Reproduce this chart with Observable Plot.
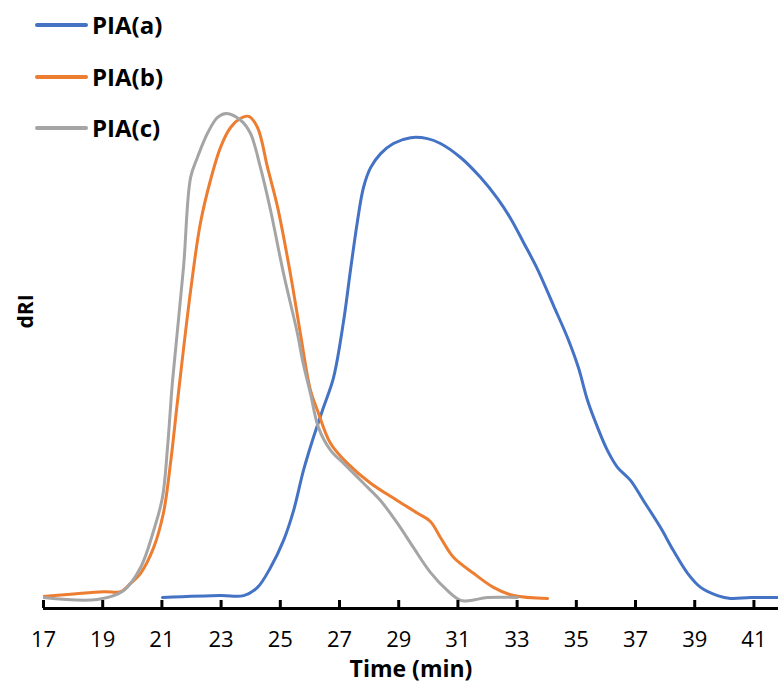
<!DOCTYPE html>
<html>
<head>
<meta charset="utf-8">
<script src="https://cdn.jsdelivr.net/npm/d3@7"></script>
<script src="https://cdn.jsdelivr.net/npm/@observablehq/plot@0.6"></script>
<style>
  html, body { margin: 0; padding: 0; background: #fff; }
  #wrap { position: relative; width: 778px; height: 690px; font-family: "Open Sans", sans-serif; }
  #legend { position: absolute; left: 35px; top: 0; }
  .item { position: absolute; left: 0; display: flex; align-items: center; white-space: nowrap; }
  .sw { width: 53px; height: 0; border-top: 4px solid; border-radius: 2px; margin-right: 4px; }
  .lab { font-weight: 700; font-size: 24px; color: #000; }
</style>
</head>
<body>
<div id="wrap"><div id="legend"></div></div>
<script>
// ---- data ----
const seriesNames = ["PIA(a)", "PIA(b)", "PIA(c)"];
const seriesColors = ["#4472C4", "#ED7D31", "#A5A5A5"];

const timeA = [21.02, 22.98, 23.76, 24.23, 24.67, 25.11, 25.45, 25.78, 26.12, 26.46, 26.8, 27.14, 27.37, 27.61, 27.81, 28.05, 28.39, 28.82, 29.4, 29.97, 30.41, 31.09, 31.76, 32.34, 32.78, 33.22, 33.69, 34.23, 34.7, 35.07, 35.38, 35.72, 36.05, 36.39, 36.83, 37.27, 37.84, 38.28, 38.76, 39.2, 39.77, 40.21, 40.89, 42.0];
const driA  = [0.0, 0.4, 0.4, 2.1, 6.2, 11.8, 18.0, 26.2, 33.1, 39.3, 45.5, 57.2, 67.6, 77.9, 84.7, 88.8, 91.7, 93.8, 95.0, 94.8, 93.8, 90.9, 86.8, 82.4, 78.3, 73.3, 67.8, 60.3, 53.7, 47.5, 40.7, 35.1, 30.4, 26.9, 24.2, 20.0, 14.5, 9.7, 5.0, 2.1, 0.4, -0.2, 0.0, 0.0];

const timeB = [17.0, 19.03, 19.6, 19.94, 20.28, 20.72, 21.05, 21.29, 21.53, 21.97, 22.3, 22.64, 22.98, 23.32, 23.66, 23.93, 24.23, 24.57, 24.91, 25.34, 25.68, 26.02, 26.26, 26.7, 27.27, 28.05, 28.96, 29.64, 30.07, 30.41, 30.85, 31.53, 32.2, 32.88, 34.03];
const driB  = [0.2, 1.2, 1.2, 2.9, 5.0, 10.3, 17.4, 27.7, 40.7, 63.4, 77.3, 86.2, 93.0, 97.1, 99.0, 99.4, 97.1, 88.8, 80.6, 66.9, 54.5, 42.8, 38.6, 31.8, 27.7, 23.6, 20.0, 17.4, 15.7, 12.4, 8.3, 5.0, 2.1, 0.4, -0.2];

const timeC = [17.0, 18.82, 19.7, 20.28, 20.72, 21.02, 21.19, 21.36, 21.73, 21.97, 22.2, 22.54, 22.88, 23.18, 23.66, 23.99, 24.33, 24.67, 25.11, 25.58, 25.75, 26.02, 26.29, 26.7, 27.14, 27.81, 28.39, 28.96, 29.5, 30.07, 30.65, 31.09, 31.43, 32.0, 33.01];
const driC  = [0.0, -0.4, 1.4, 6.2, 13.8, 20.7, 31.0, 44.8, 68.2, 86.8, 90.9, 95.9, 99.2, 100.0, 98.6, 95.9, 88.8, 80.0, 66.9, 54.5, 49.0, 42.1, 35.1, 30.4, 27.7, 23.6, 20.0, 15.3, 10.3, 5.2, 1.4, -0.6, -0.6, 0.0, 0.0];

const xTicks = [17, 19, 21, 23, 25, 27, 29, 31, 33, 35, 37, 39, 41];
const xDomain = [17, 41.83];
const yDomain = [-2.27, 119.2];
const xTitle = "Time (min)";
const yTitle = "dRI";

// ---- build rows ----
const rows = [];
[[timeA, driA], [timeB, driB], [timeC, driC]].forEach(([ts, vs], i) => {
  ts.forEach((t, j) => rows.push({series: seriesNames[i], t, v: vs[j]}));
});

const chart = Plot.plot({
  width: 778,
  height: 690,
  marginLeft: 43,
  marginRight: 0,
  marginTop: 20,
  marginBottom: 82,
  style: {fontFamily: "Open Sans, sans-serif", color: "#000", background: "#fff", overflow: "visible"},
  x: {domain: xDomain},
  y: {domain: yDomain, axis: null},
  color: {domain: seriesNames, range: seriesColors},
  marks: [
    Plot.line(rows, {x: "t", y: "v", z: "series", stroke: "series", strokeWidth: 3, curve: "catmull-rom", clip: true, strokeLinejoin: "round", strokeLinecap: "round"}),
    Plot.ruleY([yDomain[0]], {stroke: "#000", strokeWidth: 3}),
    Plot.axisX({ticks: xTicks, tickSize: 8, dy: -8, strokeWidth: 3, tickFormat: () => "", label: null}),
    Plot.axisX({ticks: xTicks, tickSize: 0, tickPadding: 23, fontSize: 22, label: null}),
    Plot.text([xTitle], {frameAnchor: "bottom", dy: 68, fontSize: 23, fontWeight: "bold", fill: "#000", text: d => d}),
    Plot.text([yTitle], {frameAnchor: "left", rotate: -90, dx: -17, dy: 14, fontSize: 21, fontWeight: "bold", fill: "#000", text: d => d})
  ]
});
document.getElementById("wrap").prepend(chart);

// ---- legend ----
const legendTops = [25, 77, 128];
const legend = document.getElementById("legend");
seriesNames.forEach((name, i) => {
  const item = document.createElement("div");
  item.className = "item";
  item.style.top = (legendTops[i] - 17) + "px";
  const sw = document.createElement("span");
  sw.className = "sw";
  sw.style.borderColor = seriesColors[i];
  const lab = document.createElement("span");
  lab.className = "lab";
  lab.textContent = name;
  item.append(sw, lab);
  legend.append(item);
});
</script>
</body>
</html>
